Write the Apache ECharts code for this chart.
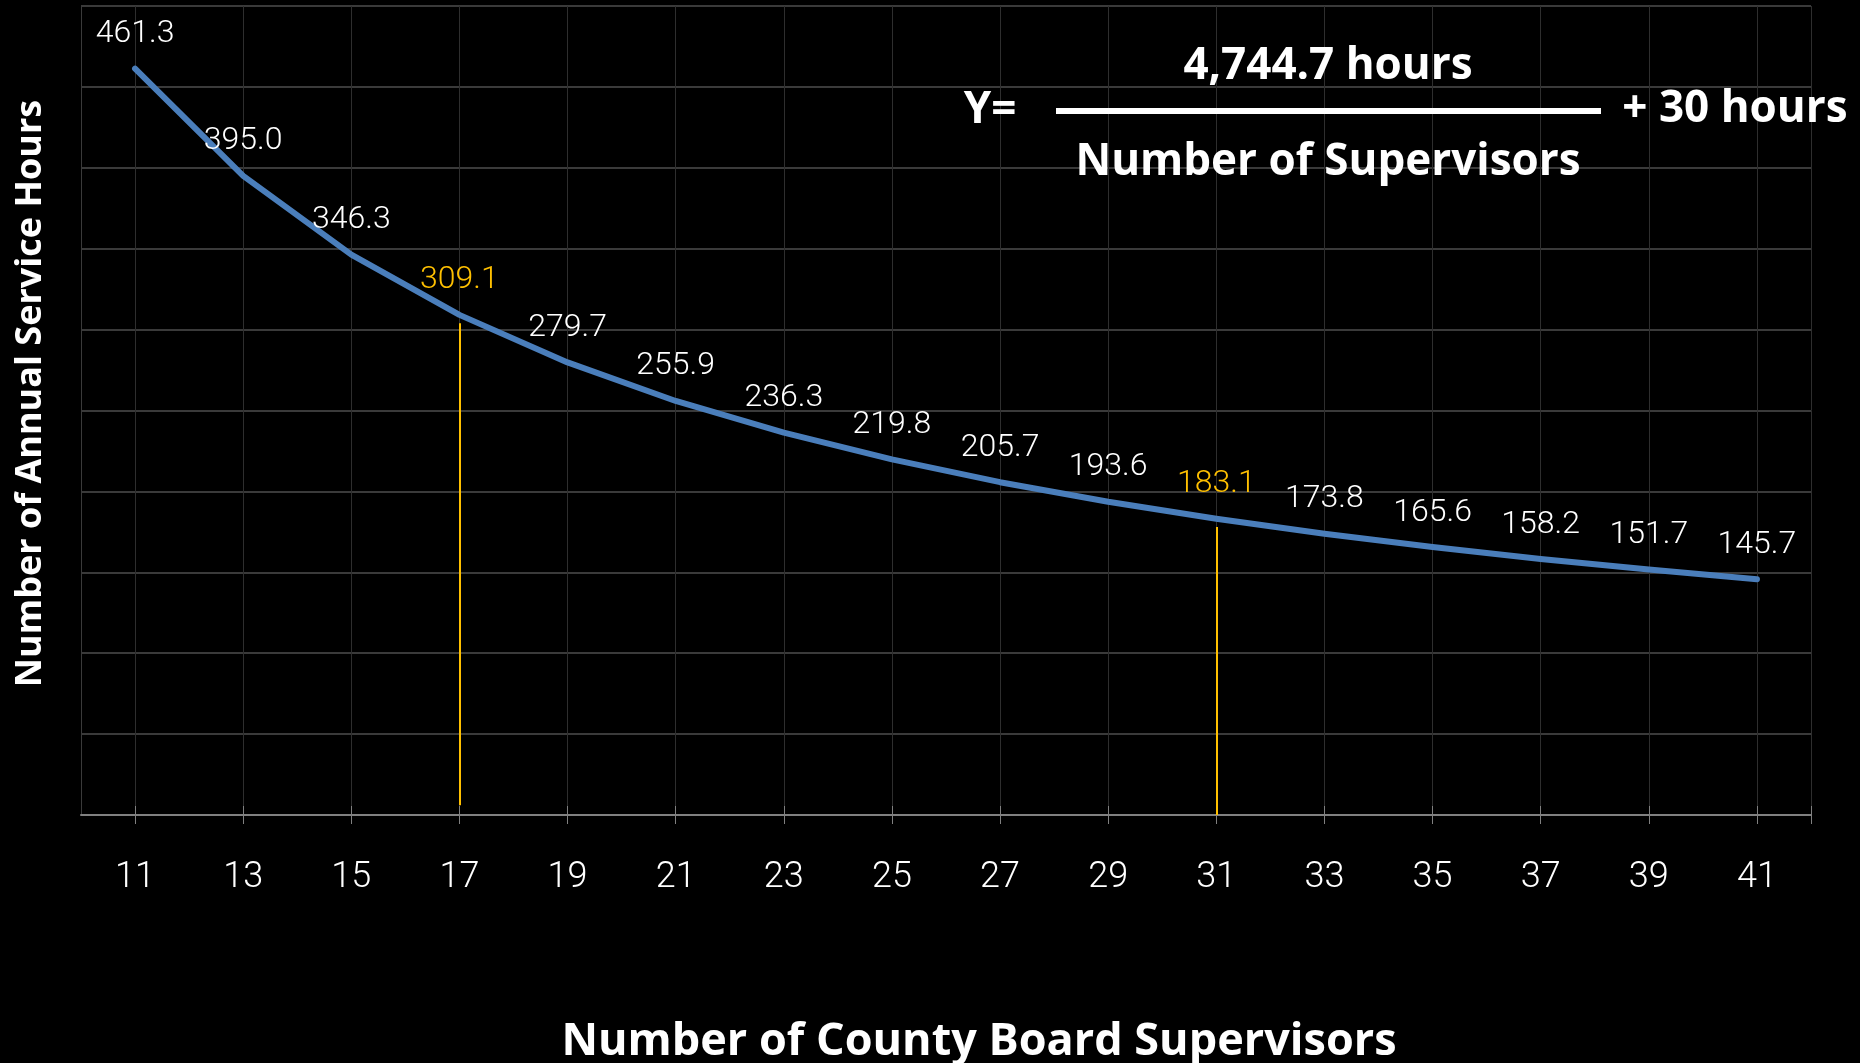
<!DOCTYPE html>
<html>
<head>
<meta charset="utf-8">
<title>Annual Service Hours per Supervisor</title>
<script src="https://cdn.jsdelivr.net/npm/echarts@6/dist/echarts.min.js"></script>
<style>
  html, body { margin: 0; padding: 0; background: #000; }
  #chart { width: 1860px; height: 1063px; }
</style>
</head>
<body>
<div id="chart"></div>
<script>
// values
const supervisors = [11, 13, 15, 17, 19, 21, 23, 25, 27, 29, 31, 33, 35, 37, 39, 41]
const serviceHours = [461.3, 395.0, 346.3, 309.1, 279.7, 255.9, 236.3, 219.8, 205.7, 193.6, 183.1, 173.8, 165.6, 158.2, 151.7, 145.7]
const highlighted = [17, 31]
const dropLineTop = [304, 178]
const dropLineBottom = [6, 0]
const xTickValues = [11, 13, 15, 17, 19, 21, 23, 25, 27, 29, 31, 33, 35, 37, 39, 41, 42]

const yellow = '#FFC000'
const blue = '#4A7EBB'
const labelFont = 'Roboto'
const titleFont = '"Open Sans"'

const seriesData = supervisors.map((x, i) => {
  const item = { value: [x, serviceHours[i]] }
  if (highlighted.includes(x)) {
    item.label = { color: yellow }
  }
  return item
})

const chart = echarts.init(document.getElementById('chart'))
chart.setOption({
  backgroundColor: '#000',
  animation: false,
  grid: {
    left: 81,
    top: 6,
    right: 49,
    bottom: 248,
    outerBoundsMode: 'none'
  },
  xAxis: [
    {
      type: 'value',
      min: 10,
      max: 42,
      interval: 1,
      name: 'Number of County Board Supervisors',
      nameLocation: 'middle',
      nameGap: 205,
      nameTextStyle: {
        color: '#fff',
        fontFamily: titleFont,
        fontWeight: 'bold',
        fontSize: 45,
        padding: [0, 0, 0, 66]
      },
      axisLine: { show: true, lineStyle: { color: '#808080', width: 2 } },
      axisTick: {
        show: true,
        customValues: xTickValues,
        length: 9,
        lineStyle: { color: '#808080', width: 1 }
      },
      axisLabel: {
        customValues: supervisors,
        margin: 45,
        color: '#fff',
        fontFamily: labelFont,
        fontWeight: 300,
        fontSize: 36
      },
      splitLine: { show: true, lineStyle: { color: '#2e2e2e', width: 1 } }
    },
    {
      // inner half of the crossing ticks
      type: 'value',
      min: 10,
      max: 42,
      interval: 1,
      position: 'bottom',
      axisLine: { show: false },
      axisTick: {
        show: true,
        inside: true,
        customValues: xTickValues,
        length: 9,
        lineStyle: { color: '#808080', width: 1 }
      },
      axisLabel: { show: false },
      splitLine: { show: false }
    }
  ],
  yAxis: {
    type: 'value',
    min: 0,
    max: 500,
    interval: 50,
    name: 'Number of Annual Service Hours',
    nameLocation: 'middle',
    nameGap: 32,
    nameTextStyle: {
      color: '#fff',
      fontFamily: titleFont,
      fontWeight: 'bold',
      fontSize: 36,
      padding: [0, 0, 0, 34]
    },
    axisLine: { show: true, lineStyle: { color: '#3a3a3a', width: 1 } },
    axisTick: { show: false },
    axisLabel: { show: false },
    splitLine: { show: true, lineStyle: { color: '#3a3a3a', width: 2 } }
  },
  series: [
    {
      type: 'line',
      xAxisIndex: 0,
      data: seriesData,
      symbol: 'circle',
      symbolSize: 1,
      itemStyle: { color: blue },
      lineStyle: { color: blue, width: 6, cap: 'round', join: 'round' },
      label: {
        show: true,
        position: 'top',
        distance: 18,
        color: '#fff',
        fontFamily: labelFont,
        fontWeight: 300,
        fontSize: 32,
        formatter: p => p.value[1].toFixed(1)
      },
      markLine: {
        silent: true,
        symbol: ['none', 'none'],
        label: { show: false },
        lineStyle: { color: yellow, width: 2, type: 'solid' },
        data: highlighted.map((x, i) => [
          { coord: [x, dropLineBottom[i]] },
          { coord: [x, dropLineTop[i]] }
        ])
      },
      z: 3
    }
  ],
  graphic: [
    {
      type: 'text',
      z: 100,
      x: 990,
      y: 110,
      style: { text: 'Y=', fill: '#fff', font: 'bold 44px "Open Sans"', align: 'center', verticalAlign: 'middle' }
    },
    {
      type: 'text',
      z: 100,
      x: 1328,
      y: 66,
      style: { text: '4,744.7 hours', fill: '#fff', font: 'bold 44px "Open Sans"', align: 'center', verticalAlign: 'middle' }
    },
    {
      type: 'line',
      z: 100,
      shape: { x1: 1056, y1: 111, x2: 1601, y2: 111 },
      style: { stroke: '#fff', lineWidth: 6 }
    },
    {
      type: 'text',
      z: 100,
      x: 1328,
      y: 162,
      style: { text: 'Number of Supervisors', fill: '#fff', font: 'bold 44px "Open Sans"', align: 'center', verticalAlign: 'middle' }
    },
    {
      type: 'text',
      z: 100,
      x: 1735,
      y: 109,
      style: { text: '+ 30 hours', fill: '#fff', font: 'bold 44px "Open Sans"', align: 'center', verticalAlign: 'middle' }
    }
  ]
})
</script>
</body>
</html>
